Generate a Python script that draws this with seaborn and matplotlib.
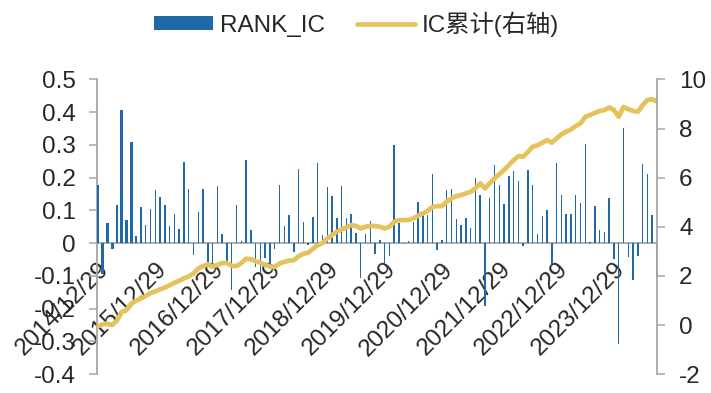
import numpy as np
import pandas as pd
import matplotlib
matplotlib.use("Agg")
import matplotlib.pyplot as plt
from matplotlib.ticker import FuncFormatter
import seaborn as sns

# ---------------- data ----------------
rank_ic = [0.177, -0.094, 0.061, -0.017, 0.115, 0.406, 0.071, 0.309, 0.023, 0.110,
           0.056, 0.103, 0.161, 0.141, 0.115, 0.052, 0.088, 0.042, 0.247, 0.166,
           -0.036, 0.094, 0.166, -0.063, -0.068, 0.173, 0.029, -0.058, -0.143, 0.115,
           0.008, 0.253, 0.039, -0.073, -0.094, -0.045, -0.063, -0.017, 0.177, 0.051,
           0.085, -0.028, 0.226, 0.064, -0.007, 0.080, 0.246, 0.026, 0.171, 0.143,
           0.077, 0.173, 0.077, 0.088, 0.032, -0.106, 0.029, 0.067, -0.033, 0.011,
           -0.061, -0.039, 0.299, 0.061, -0.004, 0.008, 0.064, 0.126, 0.088, 0.085,
           0.212, -0.020, 0.011, 0.161, 0.165, 0.074, 0.056, 0.077, 0.047, 0.200,
           0.148, -0.191, 0.137, 0.240, 0.179, 0.118, 0.204, 0.220, 0.190, -0.009,
           0.224, 0.179, 0.029, 0.082, 0.102, -0.063, 0.246, 0.146, 0.090, 0.088,
           0.147, 0.122, 0.304, 0.003, 0.112, 0.039, 0.033, 0.138, -0.048, -0.308,
           0.353, -0.043, -0.112, -0.038, 0.241, 0.210, 0.087, -0.104]

ic_cum = [-0.05, 0.03, 0.05, 0.00, 0.18, 0.54, 0.62, 0.88, 0.99, 1.08,
          1.18, 1.30, 1.37, 1.45, 1.52, 1.62, 1.72, 1.80, 1.90, 1.98,
          2.10, 2.30, 2.40, 2.47, 2.38, 2.45, 2.52, 2.53, 2.40, 2.40,
          2.52, 2.70, 2.68, 2.60, 2.53, 2.45, 2.38, 2.37, 2.50, 2.57,
          2.62, 2.64, 2.80, 2.90, 2.94, 3.10, 3.25, 3.33, 3.53, 3.66,
          3.80, 3.89, 3.97, 4.07, 4.03, 3.93, 4.00, 4.03, 4.03, 4.00,
          3.93, 4.00, 4.20, 4.27, 4.27, 4.27, 4.34, 4.45, 4.54, 4.64,
          4.81, 4.84, 4.84, 5.02, 5.15, 5.25, 5.29, 5.36, 5.42, 5.56,
          5.77, 5.56, 5.77, 5.97, 6.14, 6.31, 6.51, 6.71, 6.88, 6.85,
          7.05, 7.26, 7.32, 7.42, 7.53, 7.42, 7.60, 7.76, 7.87, 7.96,
          8.10, 8.21, 8.48, 8.55, 8.64, 8.71, 8.75, 8.86, 8.75, 8.48,
          8.88, 8.78, 8.72, 8.68, 8.95, 9.16, 9.19, 9.09]

year_labels = ["2014/12/29", "2015/12/29", "2016/12/29", "2017/12/29", "2018/12/29",
               "2019/12/29", "2020/12/29", "2021/12/29", "2022/12/29", "2023/12/29"]
label_step = 12          # one label every 12 periods
n_wide = 9               # first periods drawn with wider bars

left_ticks = [-0.4, -0.3, -0.2, -0.1, 0, 0.1, 0.2, 0.3, 0.4, 0.5]
right_ticks = [-2, 0, 2, 4, 6, 8, 10]

# ---------------- style ----------------
sns.set_style("white")
plt.rcParams['font.family'] = ['Liberation Sans', 'Noto Sans CJK SC', 'DejaVu Sans']
FS = 17.5
BLUE = "#1f69a9"
GOLD = "#e5c35c"
GRAY = "#a6a6a6"
W_WIDE = 0.55
W_THIN = 0.30

df = pd.DataFrame({"idx": np.arange(len(rank_ic)), "rank_ic": rank_ic, "ic_cum": ic_cum})

fig = plt.figure(figsize=(7.11, 3.93), dpi=100)
ax = fig.add_axes([0.136, 0.048, 0.788, 0.750])

sns.barplot(data=df, x="idx", y="rank_ic", native_scale=True,
            color=BLUE, saturation=1, errorbar=None, ax=ax,
            label="RANK_IC", linewidth=0)
# set bar widths (wider for the first periods)
for i, p in enumerate(ax.patches):
    c = p.get_x() + p.get_width() / 2
    w = W_WIDE if i < n_wide else W_THIN
    p.set_width(w)
    p.set_x(c - w / 2)
    p.set_zorder(3)

ax2 = ax.twinx()
sns.lineplot(data=df, x="idx", y="ic_cum", color=GOLD, lw=3.4, ax=ax2,
             label="IC累计(右轴)")
if ax2.get_legend() is not None:
    ax2.get_legend().remove()
if ax.get_legend() is not None:
    ax.get_legend().remove()

# axes limits
ax.set_xlim(-0.25, len(rank_ic) - 1)
ax.set_ylim(-0.4, 0.5)
ax2.set_ylim(-2, 10)

# left axis
ax.set_yticks(left_ticks)
ax.yaxis.set_major_formatter(FuncFormatter(lambda v, p: f"{v:g}"))
ax.tick_params(axis="y", direction="out", length=6, width=1.1, color=GRAY,
               labelsize=FS, pad=9, left=True)
ax.set_xlabel("")
ax.set_ylabel("")
ax2.set_xlabel("")
ax2.set_ylabel("")

# x axis at zero
ax.spines["bottom"].set_position(("data", 0))
ax.spines["bottom"].set_color(GRAY)
ax.spines["bottom"].set_linewidth(1.3)
ax.spines["left"].set_color(GRAY)
ax.spines["left"].set_linewidth(1.3)
ax.spines["top"].set_visible(False)
ax.spines["right"].set_visible(False)

xt = list(range(0, label_step * len(year_labels), label_step))
ax.set_xticks(xt)
ax.set_xticklabels(year_labels, rotation=45, ha="right", va="top",
                   rotation_mode="anchor", fontsize=FS)
ax.tick_params(axis="x", length=0, pad=11, bottom=True)

# right axis
for s in ["top", "bottom", "left"]:
    ax2.spines[s].set_visible(False)
ax2.spines["right"].set_color(GRAY)
ax2.spines["right"].set_linewidth(1.3)
ax2.set_yticks(right_ticks)
ax2.set_yticklabels([str(t) for t in right_ticks])
ax2.tick_params(axis="y", direction="out", length=6, width=1.1, color=GRAY,
                labelsize=FS, pad=10, right=True)

# legend
h1, l1 = ax.get_legend_handles_labels()
h2, l2 = ax2.get_legend_handles_labels()
fig.legend(h1[:1] + h2, l1[:1] + l2, loc="center", bbox_to_anchor=(0.502, 0.939),
           ncol=2, frameon=False, fontsize=FS, handlelength=2.4, handleheight=0.5,
           handletextpad=0.3, columnspacing=1.3)

fig.savefig("out.png", dpi=100)
